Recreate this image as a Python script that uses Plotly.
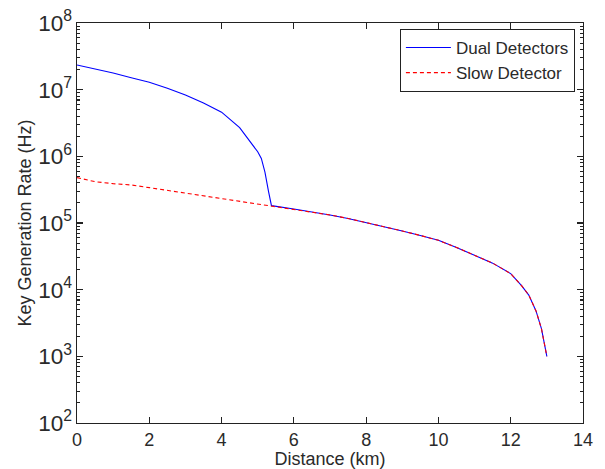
import plotly.graph_objects as go

# Slow detector curve (km, Hz)
slow_x = [0, 0.5, 1, 1.5, 2, 2.5, 3, 3.5, 4, 4.5, 5, 5.38, 6, 6.5, 7, 7.5, 8, 8.5,
          9, 9.5, 10, 10.5, 11, 11.5, 12, 12.3, 12.5, 12.7, 12.85, 13.0]
slow_y = [4.79e5, 4.17e5, 3.89e5, 3.72e5, 3.39e5, 3.09e5, 2.82e5, 2.57e5, 2.34e5,
          2.14e5, 1.95e5, 1.82e5, 1.62e5, 1.48e5, 1.32e5, 1.17e5, 1.02e5, 8.9e4,
          7.6e4, 6.5e4, 5.5e4, 4.3e4, 3.3e4, 2.5e4, 1.74e4, 1.15e4, 8.3e3, 4.8e3,
          2.6e3, 1.0e3]

# Dual detectors: own values up to the merge point, then identical to slow detector
dual_head_x = [0, 0.5, 1, 1.5, 2, 2.5, 3, 3.5, 4, 4.5, 4.8, 5.0, 5.1, 5.2, 5.3]
dual_head_y = [2.34e7, 2.04e7, 1.78e7, 1.51e7, 1.29e7, 1.05e7, 8.3e6, 6.3e6, 4.6e6,
               2.7e6, 1.66e6, 1.17e6, 9.3e5, 5.8e5, 2.95e5]

dual_x = dual_head_x + [x for x in slow_x if x >= 5.38]
dual_y = dual_head_y + [y for x, y in zip(slow_x, slow_y) if x >= 5.38]

x_ticks = [0, 2, 4, 6, 8, 10, 12, 14]
y_decades = [2, 3, 4, 5, 6, 7, 8]
y_minor = [k * 10.0 ** d for d in y_decades[:-1] for k in range(2, 10)]

FONT = "Liberation Sans, Arial, sans-serif"
TXT = "#2a2a2a"
AX = "#222222"

fig = go.Figure()
fig.add_trace(go.Scatter(x=dual_x, y=dual_y, mode="lines", name="Dual Detectors",
                         line=dict(color="#0000ff", width=1.1)))
fig.add_trace(go.Scatter(x=slow_x, y=slow_y, mode="lines", name="Slow Detector",
                         line=dict(color="#ff0000", width=1.1, dash="4px,3px")))
# empty helper trace so the minor-tick overlay axis is drawn
fig.add_trace(go.Scatter(x=[], y=[], yaxis="y2", showlegend=False, hoverinfo="skip"))

fig.update_layout(
    width=605, height=469,
    margin=dict(l=77, r=22, t=23, b=46, autoexpand=False),
    paper_bgcolor="white", plot_bgcolor="white",
    font=dict(family=FONT, size=18, color=TXT),
    showlegend=True,
    legend=dict(x=0.984, y=0.985, xanchor="right", yanchor="top",
                bgcolor="white", bordercolor="#222", borderwidth=1,
                font=dict(family=FONT, size=17, color=TXT),
                tracegroupgap=0, itemwidth=45),
    xaxis=dict(
        range=[0, 14], tickvals=x_ticks, ticktext=[str(v) for v in x_ticks],
        showgrid=False, zeroline=False,
        showline=True, linecolor=AX, linewidth=1.3, mirror="ticks",
        ticks="inside", ticklen=6, tickcolor=AX, tickwidth=1.2,
        tickfont=dict(family=FONT, size=18, color=TXT),
        title=dict(text="Distance (km)", standoff=4, font=dict(family=FONT, size=18, color=TXT)),
    ),
    yaxis=dict(
        type="log", range=[2, 8], dtick=1, exponentformat="power",
        showgrid=False, zeroline=False,
        showline=True, linecolor=AX, linewidth=1.3, mirror="ticks",
        ticks="inside", ticklen=6, tickcolor=AX, tickwidth=1.2,
        tickfont=dict(family=FONT, size=18, color=TXT),
        title=dict(text="Key Generation Rate (Hz)", standoff=2,
                   font=dict(family=FONT, size=18, color=TXT)),
    ),
    yaxis2=dict(
        type="log", range=[2, 8], overlaying="y", anchor="x", side="left",
        tickvals=y_minor, showticklabels=False,
        showgrid=False, zeroline=False, showline=False, mirror="ticks",
        ticks="inside", ticklen=3, tickcolor=AX, tickwidth=1.1,
    ),
)

fig.write_html("out.html", config={"displayModeBar": False, "staticPlot": True},
               post_script="document.body.style.margin='0';")
